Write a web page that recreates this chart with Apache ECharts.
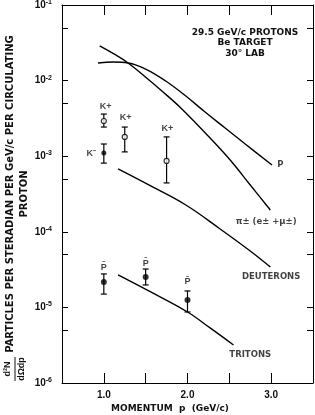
<!DOCTYPE html>
<html><head><meta charset="utf-8">
<script src="https://cdn.jsdelivr.net/npm/echarts@6/dist/echarts.min.js"></script>
<style>html,body{margin:0;padding:0;background:#fff}#c{width:315px;height:415px}</style>
</head><body><div id="c"></div>
<script>
// ---- data ----
const pCurveX  = [0.93, 1.11, 1.29, 1.5, 1.74, 1.98, 2.21, 2.45, 2.69, 3.01];
const pCurveY  = [0.0171, 0.0176, 0.0171, 0.01423, 0.00989, 0.00625, 0.00384, 0.00236, 0.00145, 0.000765];
const piCurveX = [0.95, 1.12, 1.29, 1.54, 1.68, 1.92, 2.27, 2.51, 2.75, 2.99];
const piCurveY = [0.0287, 0.0225, 0.0171, 0.0102, 0.00752, 0.00435, 0.00174, 0.000891, 0.000416, 0.000194];
const deutX = [1.17, 1.56, 1.98, 2.39, 2.75, 2.99];
const deutY = [6.78e-4, 4.04e-4, 2.26e-4, 1.09e-4, 5.57e-5, 3.42e-5];
const tritX = [1.17, 1.56, 2.0, 2.27, 2.55];
const tritY = [2.69e-5, 1.6e-5, 8.69e-6, 5.35e-6, 3.18e-6];

const kPlusX  = [1.0, 1.25, 1.75];
const kPlusY  = [2.92e-3, 1.80e-3, 8.65e-4];
const kPlusLo = [2.43e-3, 1.14e-3, 4.43e-4];
const kPlusHi = [3.61e-3, 2.43e-3, 1.80e-3];
const kMinusX  = [1.0];
const kMinusY  = [1.10e-3];
const kMinusLo = [8.1e-4];
const kMinusHi = [1.45e-3];
const pbarX  = [1.0, 1.5, 2.0];
const pbarY  = [2.17e-5, 2.52e-5, 1.25e-5];
const pbarLo = [1.5e-5, 1.98e-5, 8.7e-6];
const pbarHi = [2.77e-5, 3.22e-5, 1.65e-5];

const pointLabelX    = [1.02, 1.26, 1.76, 0.85, 1.0, 1.5, 2.0];
const pointLabelY    = [4.48e-3, 3.2e-3, 2.29e-3, 1.10e-3, 3.42e-5, 3.86e-5, 2.17e-5];
const pointLabelText = ['K+', 'K+', 'K+', 'K\u207B', 'P\u0304', 'P\u0304', 'P\u0304'];
const curveLabelX    = [3.11, 2.94, 3.0, 2.75];
const curveLabelY    = [7.65e-4, 1.35e-4, 2.52e-5, 2.34e-6];
const curveLabelText = ['P', '\u03C0\u00B1 (e\u00B1 +\u03BC\u00B1)', 'DEUTERONS', 'TRITONS'];

const xTickLabels = ['1.0', '2.0', '3.0'];
const yTicks = [1e-6, 5e-6, 1e-5, 5e-5, 1e-4, 5e-4, 1e-3, 5e-3, 1e-2, 5e-2, 1e-1];

const FONT = 'Liberation Sans';
const WIDE = 'DejaVu Sans';
const zip = (a, b) => a.map((v, i) => [v, b[i]]);
const zip3 = (a, b, c) => a.map((v, i) => [v, b[i], c[i]]);

function errRender(params, api) {
  const x = api.value(0);
  const p1 = api.coord([x, api.value(1)]);
  const p2 = api.coord([x, api.value(2)]);
  const w = 3;
  const st = { stroke: '#000', lineWidth: 1.2 };
  return { type: 'group', children: [
    { type: 'line', shape: { x1: p1[0], y1: p1[1], x2: p2[0], y2: p2[1] }, style: st },
    { type: 'line', shape: { x1: p1[0] - w, y1: p1[1], x2: p1[0] + w, y2: p1[1] }, style: st },
    { type: 'line', shape: { x1: p2[0] - w, y1: p2[1], x2: p2[0] + w, y2: p2[1] }, style: st }
  ]};
}

const lineStyle = { color: '#000', width: 1.4 };
const curve = (x, y) => ({ type: 'line', data: zip(x, y), showSymbol: false, smooth: 0.4, lineStyle, silent: true, z: 2 });
const textLabels = (x, y, t, font, size) => ({
  type: 'scatter', data: x.map((v, i) => ({ value: [v, y[i]], name: t[i] })),
  symbolSize: 0, z: 5, silent: true,
  label: { show: true, position: 'inside', formatter: p => p.name,
    fontSize: size, fontWeight: 'bold', fontFamily: font, color: '#111' }
});

const chart = echarts.init(document.getElementById('c'), null, { renderer: 'canvas' });
chart.setOption({
  animation: false,
  backgroundColor: '#fff',
  grid: { left: 62, right: 2, top: 5, bottom: 32, outerBoundsMode: 'none', containLabel: false },
  xAxis: [{
    type: 'value', min: 0.5, max: 3.5, interval: 0.5, position: 'bottom',
    axisLine: { show: true, onZero: false, lineStyle: { color: '#000', width: 1 } },
    axisTick: { show: true, inside: true, length: 10, lineStyle: { color: '#000' } },
    splitLine: { show: false },
    axisLabel: {
      margin: 7, fontSize: 10, fontWeight: 'bold', fontFamily: FONT, color: '#111',
      formatter: v => { const s = v.toFixed(1); return xTickLabels.indexOf(s) >= 0 ? s : ''; }
    },
    name: 'MOMENTUM  p  (GeV/c)', nameLocation: 'middle', nameGap: 21, nameMoveOverlap: false,
    nameTextStyle: { fontSize: 9, fontWeight: 'bold', fontFamily: WIDE, color: '#111', padding: [0, 35, 0, 0] }
  }, {
    type: 'value', min: 0.5, max: 3.5, interval: 0.5, position: 'top',
    axisLine: { show: true, onZero: false, lineStyle: { color: '#000', width: 1 } },
    axisTick: { show: true, inside: true, length: 10, lineStyle: { color: '#000' } },
    axisLabel: { show: false }, splitLine: { show: false }
  }],
  yAxis: [{
    type: 'log', logBase: 10, min: 1e-6, max: 1e-1, position: 'left',
    axisLine: { show: true, onZero: false, lineStyle: { color: '#000', width: 1 } },
    axisTick: { show: true, inside: true, length: 6, lineStyle: { color: '#000' }, customValues: yTicks },
    splitLine: { show: false },
    axisLabel: {
      margin: 10, color: '#111',
      formatter: v => '{a|10}{b|' + Math.round(Math.log10(v)) + '}',
      rich: {
        a: { fontSize: 10, fontWeight: 'bold', fontFamily: FONT, color: '#111' },
        b: { fontSize: 7, fontWeight: 'bold', fontFamily: FONT, color: '#111', verticalAlign: 'top', padding: [0, 0, 6, 0] }
      }
    },
    name: 'PARTICLES PER STERADIAN PER GeV/c PER CIRCULATING\nPROTON',
    nameLocation: 'middle', nameGap: 31, nameRotate: 90, nameMoveOverlap: false,
    nameTextStyle: { fontSize: 10, fontWeight: 'bold', fontFamily: WIDE, color: '#111', lineHeight: 14 }
  }, {
    type: 'log', logBase: 10, min: 1e-6, max: 1e-1, position: 'right',
    axisLine: { show: true, onZero: false, lineStyle: { color: '#000', width: 1 } },
    axisTick: { show: true, inside: true, length: 6, lineStyle: { color: '#000' }, customValues: yTicks },
    axisLabel: { show: false }, splitLine: { show: false }
  }],
  graphic: [
    { type: 'text', x: 245, y: 27, style: {
      text: '29.5 GeV/c PROTONS\nBe TARGET\n30° LAB', align: 'center', verticalAlign: 'top',
      font: 'bold 9px ' + WIDE, fill: '#111', lineHeight: 10.5 } },
    { type: 'group', x: 15, y: 369, rotation: Math.PI / 2, children: [
      { type: 'text', x: 0, y: -7, style: { text: 'd\u00B2N', font: 'bold 9px ' + FONT, fill: '#111', align: 'center', verticalAlign: 'middle' } },
      { type: 'line', shape: { x1: -12, y1: 0, x2: 12, y2: 0 }, style: { stroke: '#111', lineWidth: 1 } },
      { type: 'text', x: 0, y: 7, style: { text: 'd\u03A9dp', font: 'bold 9px ' + FONT, fill: '#111', align: 'center', verticalAlign: 'middle' } }
    ]}
  ],
  series: [
    curve(pCurveX, pCurveY),
    curve(piCurveX, piCurveY),
    curve(deutX, deutY),
    curve(tritX, tritY),
    { type: 'custom', data: zip3(kPlusX, kPlusLo, kPlusHi), renderItem: errRender, encode: { x: 0, y: [1, 2] }, z: 3, silent: true },
    { type: 'custom', data: zip3(kMinusX, kMinusLo, kMinusHi), renderItem: errRender, encode: { x: 0, y: [1, 2] }, z: 3, silent: true },
    { type: 'custom', data: zip3(pbarX, pbarLo, pbarHi), renderItem: errRender, encode: { x: 0, y: [1, 2] }, z: 3, silent: true },
    { type: 'scatter', data: zip(kPlusX, kPlusY), symbol: 'circle', symbolSize: 5,
      itemStyle: { color: '#fff', borderColor: '#000', borderWidth: 1.2 }, z: 4, silent: true },
    { type: 'scatter', data: zip(kMinusX, kMinusY), symbol: 'circle', symbolSize: 5,
      itemStyle: { color: '#000' }, z: 4, silent: true },
    { type: 'scatter', data: zip(pbarX, pbarY), symbol: 'circle', symbolSize: 6,
      itemStyle: { color: '#000' }, z: 4, silent: true },
    textLabels(pointLabelX, pointLabelY, pointLabelText, FONT, 9),
    textLabels(curveLabelX, curveLabelY, curveLabelText, WIDE, 8.5)
  ]
});
</script></body></html>
